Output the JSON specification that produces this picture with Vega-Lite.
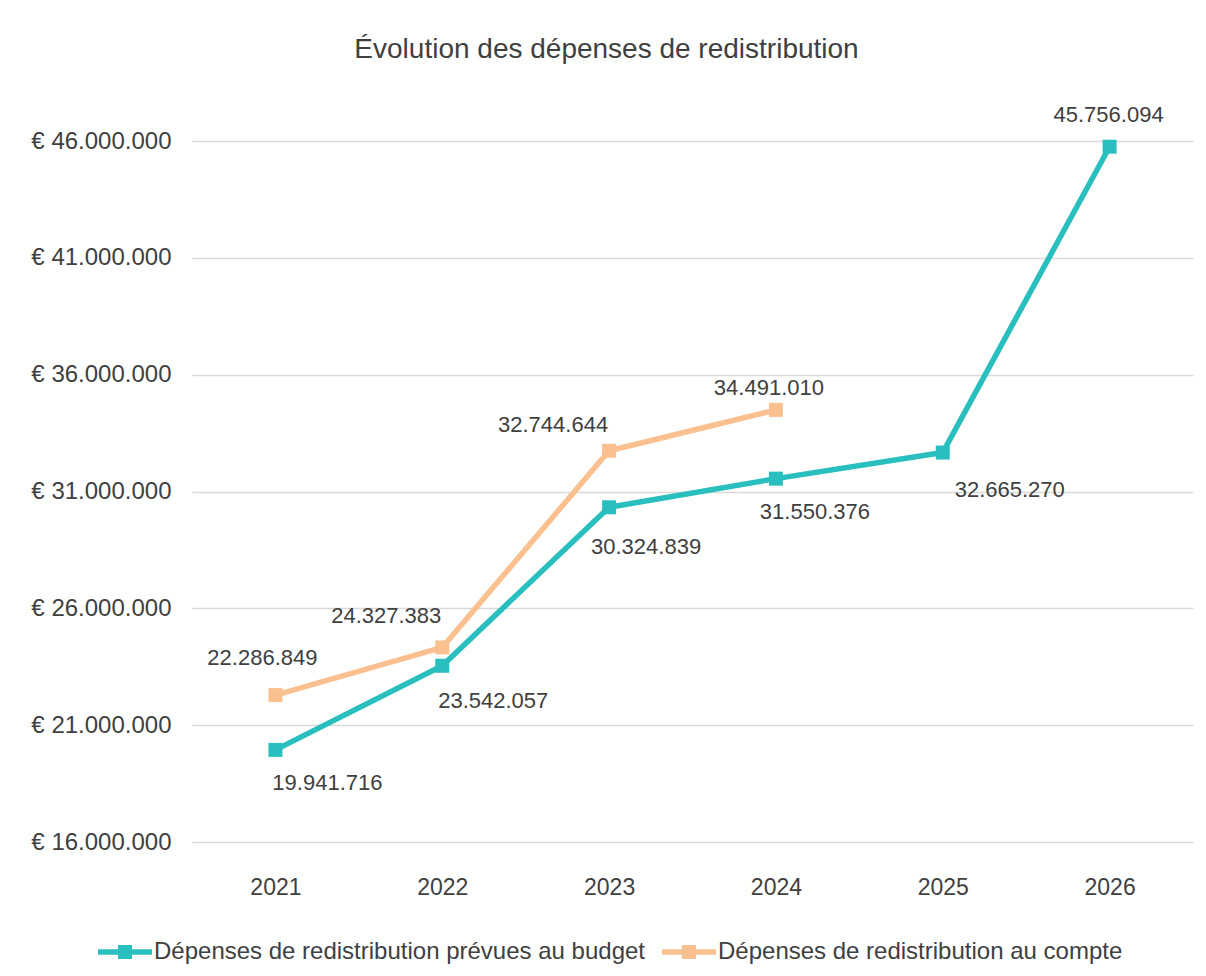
{
  "$schema": "https://vega.github.io/schema/vega-lite/v6.json",
  "width": 1001,
  "height": 701,
  "autosize": {"type": "none"},
  "padding": {"left": 192, "top": 141, "right": 13, "bottom": 134},
  "background": "white",
  "title": {
    "text": "Évolution des dépenses de redistribution",
    "anchor": "middle",
    "frame": "group",
    "dx": -86,
    "offset": 18,
    "baseline": "alphabetic",
    "fontSize": 28,
    "font": "Liberation Sans",
    "fontWeight": "normal",
    "color": "#404040"
  },
  "config": {
    "locale": {"number": {"decimal": ",", "thousands": ".", "grouping": [3], "currency": ["€ ", ""]}},
    "font": "Liberation Sans",
    "view": {"stroke": null},
    "legend": {
      "orient": "none",
      "legendX": -94,
      "legendY": 784,
      "direction": "horizontal",
      "symbolType": "M-1,-0.1H1V0.1H-1Z M-0.26,-0.26H0.26V0.26H-0.26Z",
      "symbolSize": 2916,
      "symbolStrokeWidth": 0,
      "symbolOpacity": 1,
      "labelFontSize": 24,
      "labelColor": "#404040",
      "labelFont": "Liberation Sans",
      "labelLimit": 0,
      "labelOffset": 2,
      "columnPadding": 17
    }
  },
  "data": {
    "values": [
      {"year": "2021", "series": "Dépenses de redistribution prévues au budget", "value": 19941716},
      {"year": "2022", "series": "Dépenses de redistribution prévues au budget", "value": 23542057},
      {"year": "2023", "series": "Dépenses de redistribution prévues au budget", "value": 30324839},
      {"year": "2024", "series": "Dépenses de redistribution prévues au budget", "value": 31550376},
      {"year": "2025", "series": "Dépenses de redistribution prévues au budget", "value": 32665270},
      {"year": "2026", "series": "Dépenses de redistribution prévues au budget", "value": 45756094},
      {"year": "2021", "series": "Dépenses de redistribution au compte", "value": 22286849},
      {"year": "2022", "series": "Dépenses de redistribution au compte", "value": 24327383},
      {"year": "2023", "series": "Dépenses de redistribution au compte", "value": 32744644},
      {"year": "2024", "series": "Dépenses de redistribution au compte", "value": 34491010}
    ]
  },
  "encoding": {
    "x": {
      "field": "year",
      "type": "ordinal",
      "scale": {"type": "point", "padding": 0.5},
      "axis": {
        "title": null,
        "labelAngle": 0,
        "domain": false,
        "ticks": false,
        "tickSize": 0,
        "grid": false,
        "labelPadding": 34,
        "labelFontSize": 23,
        "labelColor": "#404040",
        "labelFont": "Liberation Sans"
      }
    },
    "y": {
      "field": "value",
      "type": "quantitative",
      "scale": {"domain": [16000000, 46000000], "zero": false, "nice": false},
      "axis": {
        "title": null,
        "values": [16000000, 21000000, 26000000, 31000000, 36000000, 41000000, 46000000],
        "format": "$,.0f",
        "domain": false,
        "ticks": false,
        "tickSize": 0,
        "labelPadding": 21,
        "labelFontSize": 24,
        "labelColor": "#404040",
        "labelFont": "Liberation Sans",
        "gridColor": "#D9D9D9",
        "gridWidth": 1.3
      }
    },
    "color": {
      "field": "series",
      "type": "nominal",
      "scale": {"domain": ["Dépenses de redistribution prévues au budget", "Dépenses de redistribution au compte"], "range": ["#2ABFBF", "#FAC090"]},
      "legend": {"title": null}
    }
  },
  "layer": [
    {
      "mark": {"type": "line", "strokeWidth": 5.5, "strokeCap": "round", "strokeJoin": "round"}
    },
    {
      "mark": {"type": "point", "shape": "square", "filled": true, "size": 196, "opacity": 1}
    },
    {
      "transform": [{"filter": "datum.year == '2021' && test(/budget/, datum.series)"}],
      "mark": {"type": "text", "dx": 52, "dy": 33, "baseline": "middle", "fontSize": 22},
      "encoding": {"text": {"field": "value", "type": "quantitative", "format": ",.0f"}, "color": {"value": "#404040"}}
    },
    {
      "transform": [{"filter": "datum.year == '2022' && test(/budget/, datum.series)"}],
      "mark": {"type": "text", "dx": 51, "dy": 35, "baseline": "middle", "fontSize": 22},
      "encoding": {"text": {"field": "value", "type": "quantitative", "format": ",.0f"}, "color": {"value": "#404040"}}
    },
    {
      "transform": [{"filter": "datum.year == '2023' && test(/budget/, datum.series)"}],
      "mark": {"type": "text", "dx": 37, "dy": 40, "baseline": "middle", "fontSize": 22},
      "encoding": {"text": {"field": "value", "type": "quantitative", "format": ",.0f"}, "color": {"value": "#404040"}}
    },
    {
      "transform": [{"filter": "datum.year == '2024' && test(/budget/, datum.series)"}],
      "mark": {"type": "text", "dx": 39, "dy": 33, "baseline": "middle", "fontSize": 22},
      "encoding": {"text": {"field": "value", "type": "quantitative", "format": ",.0f"}, "color": {"value": "#404040"}}
    },
    {
      "transform": [{"filter": "datum.year == '2025' && test(/budget/, datum.series)"}],
      "mark": {"type": "text", "dx": 67, "dy": 37, "baseline": "middle", "fontSize": 22},
      "encoding": {"text": {"field": "value", "type": "quantitative", "format": ",.0f"}, "color": {"value": "#404040"}}
    },
    {
      "transform": [{"filter": "datum.year == '2026' && test(/budget/, datum.series)"}],
      "mark": {"type": "text", "dx": -1, "dy": -32, "baseline": "middle", "fontSize": 22},
      "encoding": {"text": {"field": "value", "type": "quantitative", "format": ",.0f"}, "color": {"value": "#404040"}}
    },
    {
      "transform": [{"filter": "datum.year == '2021' && test(/compte/, datum.series)"}],
      "mark": {"type": "text", "dx": -13, "dy": -37, "baseline": "middle", "fontSize": 22},
      "encoding": {"text": {"field": "value", "type": "quantitative", "format": ",.0f"}, "color": {"value": "#404040"}}
    },
    {
      "transform": [{"filter": "datum.year == '2022' && test(/compte/, datum.series)"}],
      "mark": {"type": "text", "dx": -56, "dy": -31, "baseline": "middle", "fontSize": 22},
      "encoding": {"text": {"field": "value", "type": "quantitative", "format": ",.0f"}, "color": {"value": "#404040"}}
    },
    {
      "transform": [{"filter": "datum.year == '2023' && test(/compte/, datum.series)"}],
      "mark": {"type": "text", "dx": -56, "dy": -26, "baseline": "middle", "fontSize": 22},
      "encoding": {"text": {"field": "value", "type": "quantitative", "format": ",.0f"}, "color": {"value": "#404040"}}
    },
    {
      "transform": [{"filter": "datum.year == '2024' && test(/compte/, datum.series)"}],
      "mark": {"type": "text", "dx": -7, "dy": -22, "baseline": "middle", "fontSize": 22},
      "encoding": {"text": {"field": "value", "type": "quantitative", "format": ",.0f"}, "color": {"value": "#404040"}}
    }
  ]
}
